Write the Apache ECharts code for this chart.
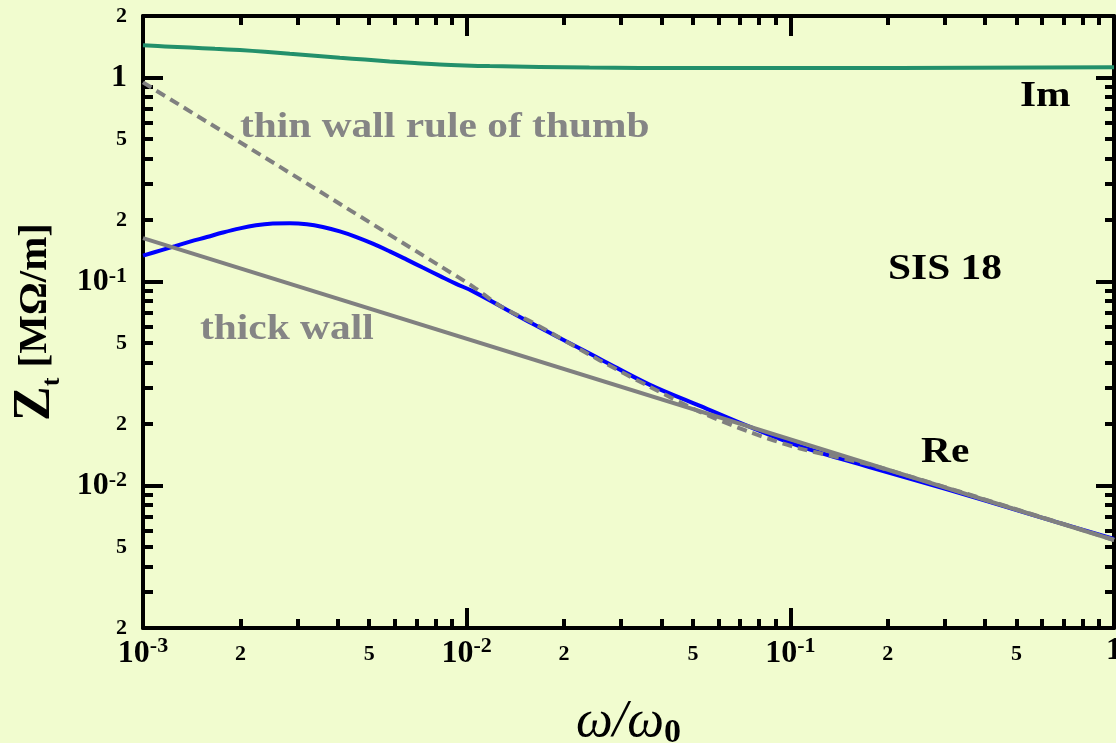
<!DOCTYPE html>
<html>
<head>
<meta charset="utf-8">
<script src="https://cdn.jsdelivr.net/npm/echarts@6/dist/echarts.min.js"></script>
<style>
html,body{margin:0;padding:0;background:#f1fccf;}
#chart{width:1116px;height:743px;}
</style>
</head>
<body>
<div id="chart"></div>
<script>
// ---- data ----
const imX = [0.001, 0.001169, 0.001397, 0.001668, 0.001993, 0.002379, 0.002842, 0.003396, 0.004055, 0.004843, 0.005785, 0.006911, 0.008254, 0.009858, 0.01178, 0.0168, 0.02397, 0.0342, 0.0747, 0.217, 1];
const imY = [1.436, 1.419, 1.400, 1.381, 1.361, 1.336, 1.307, 1.278, 1.249, 1.223, 1.198, 1.177, 1.158, 1.145, 1.136, 1.126, 1.118, 1.113, 1.111, 1.113, 1.122];

const reX = [0.001, 0.001128, 0.001256, 0.001397, 0.001576, 0.001765, 0.001993, 0.002233, 0.002519, 0.002842, 0.003208, 0.003593, 0.004055, 0.004544, 0.005128, 0.005785, 0.006529, 0.007313, 0.008254, 0.009247, 0.01043,
             0.01599, 0.02573, 0.03671, 0.05237, 0.07471, 0.1066, 0.1753, 0.3031, 0.5465, 1];
const reY = [0.1338, 0.1416, 0.1490, 0.1568, 0.1650, 0.1736, 0.1820, 0.1883, 0.1921, 0.1930, 0.1908, 0.1849, 0.1759, 0.1655, 0.1532, 0.1404, 0.1279, 0.1169, 0.1064, 0.0975, 0.0896,
             0.0620, 0.0418, 0.0312, 0.0246, 0.0194, 0.0156, 0.0123, 0.0096, 0.00725, 0.00547];

const thinX = [0.001, 0.003052, 0.008254, 0.01043, 0.01264, 0.01599, 0.02573, 0.03671, 0.05237, 0.07471, 0.1066, 0.1883, 1];
const thinY = [0.945, 0.3172, 0.1193, 0.0946, 0.0761, 0.0628, 0.0411, 0.0305, 0.0230, 0.0183, 0.0152, 0.01227, 0.0054];

const thickX = [0.001, 1];
const thickY = [0.163, 0.0054];

// ---- ticks / labels ----
const xMajorTicks = [0.001, 0.01, 0.1, 1];
const xMinorTicks = [0.002, 0.003, 0.004, 0.005, 0.006, 0.007, 0.008, 0.009,
                     0.02, 0.03, 0.04, 0.05, 0.06, 0.07, 0.08, 0.09,
                     0.2, 0.3, 0.4, 0.5, 0.6, 0.7, 0.8, 0.9];
const xTickLabels = [0.001, 0.002, 0.005, 0.01, 0.02, 0.05, 0.1, 0.2, 0.5, 1];

const yMajorTicks = [0.01, 0.1, 1];
const yMinorTicks = [0.003, 0.004, 0.005, 0.006, 0.007, 0.008, 0.009,
                     0.02, 0.03, 0.04, 0.05, 0.06, 0.07, 0.08, 0.09,
                     0.2, 0.3, 0.4, 0.5, 0.6, 0.7, 0.8, 0.9];
const yTickLabels = [0.002, 0.005, 0.01, 0.02, 0.05, 0.1, 0.2, 0.5, 1, 2];

const FONT = 'Liberation Serif';

function pair(xs, ys) { return xs.map((x, i) => [x, ys[i]]); }

function fmt(v) {
  const e = Math.log10(v);
  const re = Math.round(e);
  if (Math.abs(e - re) < 1e-6) {
    if (re === 0) return '{b|1}';
    return '{b|10}{s|' + re + '}';
  }
  const d = Math.round(v / Math.pow(10, Math.floor(e + 1e-9)));
  return String(d);
}

const richLab = {
  b: {fontFamily: FONT, fontWeight: 'bold', fontSize: 32, lineHeight: 32, color: '#000'},
  s: {fontFamily: FONT, fontWeight: 'bold', fontSize: 22, verticalAlign: 'top', color: '#000'}
};

function axis(dim, pos, ticks, len, showLine, labels, extra) {
  const isX = dim === 'x';
  const a = {
    type: 'log', logBase: 10,
    min: isX ? 0.001 : 0.002,
    max: isX ? 1 : 2,
    position: pos,
    splitLine: {show: false},
    axisLine: {show: showLine, onZero: false, lineStyle: {color: '#000', width: 4}},
    axisTick: {show: true, inside: true, length: len, customValues: ticks,
               lineStyle: {color: '#000', width: 4}},
    axisLabel: labels ? {
      show: true, customValues: labels, formatter: fmt,
      fontFamily: FONT, fontWeight: 'bold', fontSize: 22, color: '#000',
      lineHeight: isX ? 38 : 24,
      margin: isX ? 7 : 16, rich: richLab
    } : {show: false}
  };
  return Object.assign(a, extra || {});
}

const chart = echarts.init(document.getElementById('chart'), null, {renderer: 'canvas'});

chart.setOption({
  backgroundColor: '#f1fccf',
  animation: false,
  grid: {left: 143, right: 2, top: 16, bottom: 115, containLabel: false, outerBoundsMode: 'none'},
  xAxis: [
    axis('x', 'bottom', xMajorTicks, 20, true, xTickLabels, {
      name: '{w|ω/ω}{z|0}', nameLocation: 'middle', nameGap: 66,
      nameTextStyle: {
        rich: {
          w: {fontFamily: FONT, fontStyle: 'italic', fontSize: 52, lineHeight: 56, color: '#000'},
          z: {fontFamily: FONT, fontWeight: 'bold', fontSize: 34, lineHeight: 26, verticalAlign: 'bottom', color: '#000'}
        }
      }
    }),
    axis('x', 'bottom', xMinorTicks, 9, false, null),
    axis('x', 'top', xMajorTicks, 20, true, null),
    axis('x', 'top', xMinorTicks, 9, false, null)
  ],
  yAxis: [
    axis('y', 'left', yMajorTicks, 20, true, yTickLabels, {
      name: '{z|Z}{t|t}{u| [MΩ/m]}', nameLocation: 'middle', nameGap: 76, nameRotate: 90,
      nameTextStyle: {
        rich: {
          z: {fontFamily: FONT, fontWeight: 'bold', fontSize: 52, lineHeight: 60, color: '#000'},
          t: {fontFamily: FONT, fontWeight: 'bold', fontSize: 26, lineHeight: 20, verticalAlign: 'bottom', color: '#000'},
          u: {fontFamily: FONT, fontWeight: 'bold', fontSize: 41, lineHeight: 60, color: '#000'}
        }
      }
    }),
    axis('y', 'left', yMinorTicks, 10, false, null),
    axis('y', 'right', yMajorTicks, 18, true, null),
    axis('y', 'right', yMinorTicks, 9, false, null)
  ],
  series: [
    {name: 'Im', type: 'line', data: pair(imX, imY), smooth: 0.4, symbol: 'none',
     lineStyle: {color: '#23906b', width: 4}, z: 3},
    {name: 'Re', type: 'line', data: pair(reX, reY), smooth: 0.4, symbol: 'none',
     lineStyle: {color: '#0000ff', width: 4}, z: 3},
    {name: 'thick wall', type: 'line', data: pair(thickX, thickY), symbol: 'none',
     lineStyle: {color: '#808080', width: 4}, z: 4},
    {name: 'thin wall rule of thumb', type: 'line', data: pair(thinX, thinY), smooth: 0.3, symbol: 'none',
     lineStyle: {color: '#808080', width: 4, type: [10, 6]}, z: 5}
  ],
  graphic: [
    {type: 'text', x: 240, y: 128, scaleX: 1.15, z: 10,
     style: {text: 'thin wall rule of thumb', font: 'bold 36px "Liberation Serif"', fill: '#858585', textVerticalAlign: 'middle'}},
    {type: 'text', x: 200, y: 330, scaleX: 1.15, z: 10,
     style: {text: 'thick wall', font: 'bold 36px "Liberation Serif"', fill: '#858585', textVerticalAlign: 'middle'}},
    {type: 'text', x: 888, y: 270, scaleX: 1.15, z: 10,
     style: {text: 'SIS 18', font: 'bold 36px "Liberation Serif"', fill: '#000', textVerticalAlign: 'middle'}},
    {type: 'text', x: 1020, y: 97, scaleX: 1.15, z: 10,
     style: {text: 'Im', font: 'bold 36px "Liberation Serif"', fill: '#000', textVerticalAlign: 'middle'}},
    {type: 'text', x: 921, y: 453, scaleX: 1.15, z: 10,
     style: {text: 'Re', font: 'bold 36px "Liberation Serif"', fill: '#000', textVerticalAlign: 'middle'}}
  ]
});
</script>
</body>
</html>
